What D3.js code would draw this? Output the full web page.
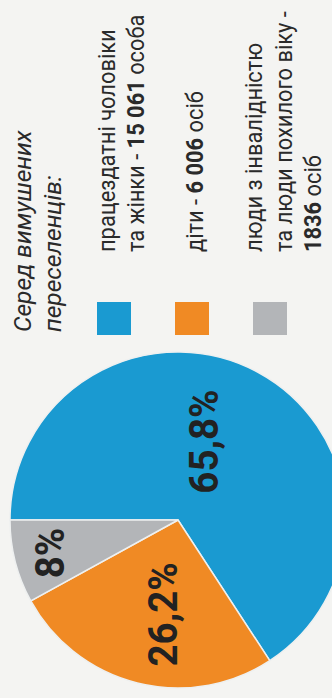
<!DOCTYPE html>
<html>
<head>
<meta charset="utf-8">
<script src="https://cdn.jsdelivr.net/npm/d3@7"></script>
<style>
  html, body { margin: 0; padding: 0; background: #f4f4f2; }
  svg { display: block; }
</style>
</head>
<body>
<div id="chart"></div>
<script>
// Дані діаграми
const categories = ["працездатні", "діти", "люди з інвалідністю"];
const shares = [65.8, 26.2, 8];
const countLabels = ["15 061", "6 006", "1836"];
const legendLines = [
    ["працездатні чоловіки", "та жінки - {n} особа"],
    ["діти - {n} осіб"],
    ["люди з інвалідністю", "та люди похилого віку -", "{n} осіб"]
];
const heading = ["Серед вимушених", "переселенців:"];
const colors = ["#1a9ad1", "#f08a24", "#b3b5b8"];

const width = 332, height = 698;
const font = "Roboto, 'Open Sans', sans-serif";

const svg = d3.select("#chart").append("svg")
    .attr("width", width).attr("height", height);

svg.append("rect")
    .attr("width", width).attr("height", height)
    .attr("fill", "#f4f4f2");

// Кругова діаграма (весь малюнок повернуто на -90°)
const radius = 168;
const pieG = svg.append("g")
    .attr("transform", "translate(178,520) rotate(-90)");

const pie = d3.pie().sort(null).value(d => d);
const arcs = pie(shares);
const arc = d3.arc().innerRadius(0).outerRadius(radius);

pieG.selectAll("path")
    .data(arcs)
    .join("path")
    .attr("d", arc)
    .attr("fill", (d, i) => colors[i])
    .attr("stroke", "#eef0f0")
    .attr("stroke-width", 1.5);

// положення підписів: частка радіуса і зсув кута (градуси)
const labelPos = [{ r: 0.49, shift: -10.8 }, { r: 0.57, shift: -4.4 }, { r: 0.79, shift: 0 }];

pieG.selectAll("text.pct")
    .data(arcs)
    .join("text")
    .attr("class", "pct")
    .attr("transform", (d, i) => {
        const a = (d.startAngle + d.endAngle) / 2 + labelPos[i].shift * Math.PI / 180;
        const r = radius * labelPos[i].r;
        return `translate(${r * Math.sin(a)},${-r * Math.cos(a)}) scale(0.94,1)`;
    })
    .attr("text-anchor", "middle")
    .attr("dy", "0.36em")
    .style("font-family", font)
    .style("font-weight", "700")
    .style("font-size", "41px")
    .attr("fill", "#222")
    .text(d => String(d.data).replace(".", ",") + "%");

// Легенда
const legendG = svg.append("g")
    .attr("transform", "translate(0,335) rotate(-90)");

const heads = legendG.append("g")
    .style("font-family", font)
    .style("font-style", "italic")
    .style("font-size", "24.5px")
    .attr("fill", "#2a2a2a");

heads.selectAll("text")
    .data(heading)
    .join("text")
    .attr("x", 3)
    .attr("y", (d, i) => 31 + i * 29.5)
    .text(d => d);

const squareY = d3.scalePoint().domain(categories).range([114, 270]);
const sq = 34;

legendG.selectAll("rect.key")
    .data(categories)
    .join("rect")
    .attr("class", "key")
    .attr("x", 0)
    .attr("y", d => squareY(d) - sq / 2)
    .attr("width", sq - 1)
    .attr("height", sq)
    .attr("fill", (d, i) => colors[i]);

// рядки тексту легенди
const lineH = 29.5;
let baseline = 115;
const rows = [];
legendLines.forEach((lines, i) => {
    lines.forEach(line => {
        rows.push({ line, i, y: baseline });
        baseline += lineH;
    });
    baseline += lineH;
});

const textG = legendG.append("g")
    .attr("transform", "translate(83,0) scale(0.93,1)")
    .style("font-family", font)
    .style("font-size", "23.5px")
    .attr("fill", "#2a2a2a");

const rowText = textG.selectAll("text")
    .data(rows)
    .join("text")
    .attr("x", 0)
    .attr("y", d => d.y);

rowText.each(function (d) {
    const t = d3.select(this);
    const parts = d.line.split("{n}");
    parts.forEach((p, k) => {
        if (k > 0) {
            t.append("tspan").style("font-weight", "700").text(countLabels[d.i]);
        }
        if (p) t.append("tspan").text(p);
    });
});
</script>
</body>
</html>
